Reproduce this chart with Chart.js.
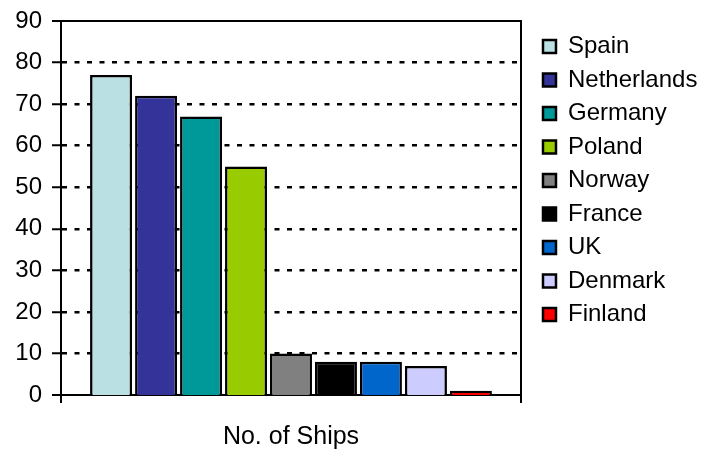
<!DOCTYPE html>
<html>
<head>
<meta charset="utf-8">
<script src="https://cdn.jsdelivr.net/npm/chart.js@4.4.1/dist/chart.umd.min.js"></script>
<style>
  html, body { margin: 0; padding: 0; background: #fff; }
  #wrap { width: 711px; height: 450px; }
</style>
</head>
<body>
<div id="wrap"><canvas id="c" width="711" height="450"></canvas></div>
<script>
const categories = ['No. of Ships'];
const countries = ['Spain', 'Netherlands', 'Germany', 'Poland', 'Norway', 'France', 'UK', 'Denmark', 'Finland'];
const ships = [77, 72, 67, 55, 10, 8, 8, 7, 1];
const yTicks = [0, 10, 20, 30, 40, 50, 60, 70, 80, 90];

const barColors = ['#BBE0E3', '#333399', '#009999', '#99CC00', '#808080', '#000000', '#0066CC', '#CCCCFF', '#FF0000'];
const FONT = "'Liberation Sans', Arial, sans-serif";

const datasets = countries.map((name, i) => ({
  label: name,
  data: [ships[i]],
  backgroundColor: barColors[i],
  borderColor: '#000',
  borderWidth: 2.5,
  borderSkipped: 'start',
  categoryPercentage: 0.88,
  barPercentage: 0.933
}));

new Chart(document.getElementById('c'), {
  type: 'bar',
  data: { labels: categories, datasets },
  options: {
    responsive: false,
    animation: false,
    devicePixelRatio: 1,
    layout: { padding: { left: 5.3, top: 21, right: 3.6, bottom: -21 } },
    plugins: {
      tooltip: { enabled: false },
      legend: {
        position: 'right',
        align: 'start',
        maxWidth: 230,
        title: { display: true, text: '', font: { size: 4, lineHeight: 1 }, padding: 0 },
        labels: {
          boxWidth: 13,
          boxHeight: 13,
          padding: 9.5,
          color: '#000',
          font: { family: FONT, size: 24 }
        }
      }
    },
    scales: {
      x: {
        offset: true,
        grid: {
          display: true,
          offset: true,
          drawOnChartArea: false,
          drawTicks: true,
          tickLength: 8,
          color: '#000',
          lineWidth: 2
        },
        border: { display: true, color: '#000', width: 2 },
        ticks: {
          color: '#000',
          padding: 21.5,
          font: { family: FONT, size: 25, lineHeight: 1 }
        }
      },
      y: {
        min: 0,
        max: 90,
        afterBuildTicks: (axis) => { axis.ticks = yTicks.map(v => ({ value: v })); },
        grid: {
          color: '#000',
          lineWidth: (ctx) => {
            const v = ctx.tick ? ctx.tick.value : null;
            if (v === 0) return 0;
            return v === 90 ? 2 : 2.5;
          },
          drawTicks: true,
          tickLength: 9,
          tickWidth: 2
        },
        border: {
          display: true,
          color: '#000',
          width: 2,
          dash: (ctx) => (ctx.tick && ctx.tick.value === 90) ? [] : [5, 7.5]
        },
        ticks: {
          color: '#000',
          padding: 10,
          font: { family: FONT, size: 24, lineHeight: 0.9 }
        }
      },
      y2: {
        position: 'right',
        display: true,
        grid: {
          display: true,
          drawOnChartArea: false,
          drawTicks: true,
          tickLength: 12.5,
          tickColor: 'rgba(0,0,0,0)'
        },
        border: { display: true, color: '#000', width: 2 },
        ticks: { display: false }
      }
    }
  }
});
</script>
</body>
</html>
